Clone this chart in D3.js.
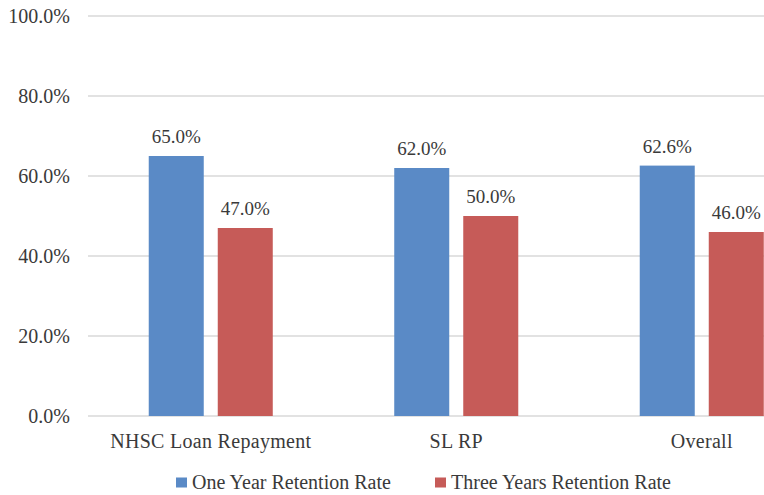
<!DOCTYPE html>
<html>
<head>
<meta charset="utf-8">
<script src="https://cdn.jsdelivr.net/npm/d3@7"></script>
<style>
html,body{margin:0;padding:0;background:#fff;overflow:hidden;}
svg{display:block;}
</style>
</head>
<body>
<svg id="chart" width="764" height="495"></svg>
<script>
const categories = ["NHSC Loan Repayment", "SL RP", "Overall"];
const seriesNames = ["One Year Retention Rate", "Three Years Retention Rate"];
const oneYear = [65.0, 62.0, 62.6];
const threeYears = [47.0, 50.0, 46.0];
const yTicks = [0, 20, 40, 60, 80, 100];
const colors = ["#5A8AC6", "#C65B58"];

(function () {
const FONT = "Liberation Serif";
const TXT = "#3a3a3a";
const svg = d3.select("#chart");
const mLeft = 88, mRight = 824.5, mTop = 16, mBottom = 416;

const x0 = d3.scaleBand().domain(categories).range([mLeft, mRight]).padding(0);
const x1 = d3.scaleBand().domain(seriesNames).range([0, x0.bandwidth()])
  .paddingInner(14/69).paddingOuter(0.88);
const y = d3.scaleLinear().domain([0, 100]).range([mBottom, mTop]);
const color = d3.scaleOrdinal().domain(seriesNames).range(colors);

svg.append("g").selectAll("line").data(yTicks).join("line")
  .attr("x1", mLeft).attr("x2", mRight)
  .attr("y1", d => y(d)).attr("y2", d => y(d))
  .attr("stroke", "#d9d9d9").attr("stroke-width", 1.3);

const yAxis = d3.axisLeft(y).tickValues(yTicks).tickSize(0).tickPadding(0)
  .tickFormat(d => d.toFixed(1) + "%");
const ya = svg.append("g").attr("transform", "translate(70,0)").call(yAxis);
ya.select(".domain").remove();
ya.selectAll("text").attr("fill", TXT)
  .style("font-family", FONT).style("font-size", "20px");

const data = categories.map((c, i) => ({cat: c, vals: [
  {s: seriesNames[0], v: oneYear[i]}, {s: seriesNames[1], v: threeYears[i]}]}));

const groups = svg.append("g").selectAll("g").data(data).join("g")
  .attr("transform", d => `translate(${x0(d.cat)},0)`);
groups.selectAll("rect").data(d => d.vals).join("rect")
  .attr("x", d => x1(d.s)).attr("width", x1.bandwidth())
  .attr("y", d => y(d.v)).attr("height", d => y(0) - y(d.v))
  .attr("fill", d => color(d.s));
groups.selectAll("text.val").data(d => d.vals).join("text")
  .attr("class", "val")
  .attr("x", d => x1(d.s) + x1.bandwidth() / 2)
  .attr("y", d => y(d.v) - 13)
  .attr("text-anchor", "middle").attr("fill", TXT)
  .style("font-family", FONT).style("font-size", "19px")
  .text(d => d.v.toFixed(1) + "%");

const xAxis = d3.axisBottom(x0).tickSize(0).tickPadding(0);
const xa = svg.append("g").attr("transform", `translate(0,${mBottom})`).call(xAxis);
xa.select(".domain").remove();
xa.selectAll("text").attr("fill", TXT)
  .attr("dy", 0).attr("y", 32)
  .style("font-family", FONT).style("font-size", "20px").style("letter-spacing", "0.3px");

const legendX = d3.scalePoint().domain(seriesNames).range([176, 435]);
const lg = svg.append("g").selectAll("g").data(seriesNames).join("g")
  .attr("transform", d => `translate(${legendX(d)},477.5)`);
lg.append("rect").attr("width", 11).attr("height", 10).attr("fill", d => color(d));
lg.append("text").attr("x", 16).attr("y", 11.5).attr("fill", TXT)
  .style("font-family", FONT).style("font-size", "20px").text(d => d);
})();
</script>
</body>
</html>
